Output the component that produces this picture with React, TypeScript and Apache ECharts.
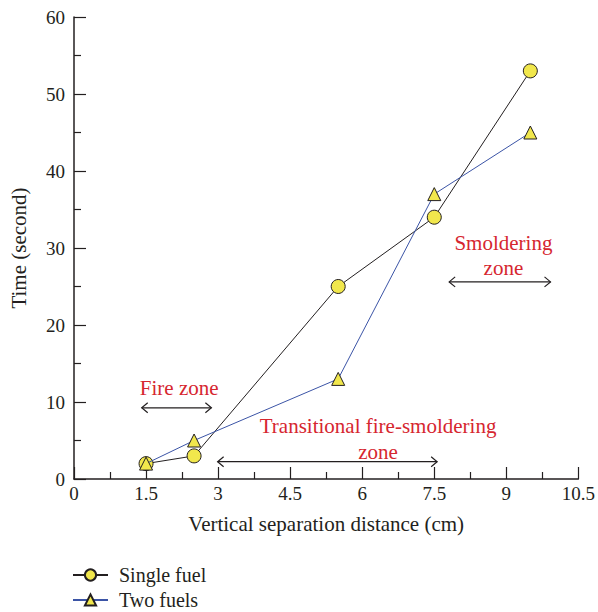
import React, { useEffect, useRef } from "react";
import * as echarts from "echarts";

const distances = [1.5, 2.5, 5.5, 7.5, 9.5];
const singleFuel = [2, 3, 25, 34, 53];
const twoFuels = [2, 5, 13, 37, 45];

// zone arrows: [xStart, xEnd, y]
const zoneArrows: number[][] = [
  [1.41, 2.86, 9.25],
  [2.99, 7.56, 2.25],
  [7.81, 9.92, 25.6],
];
// zone labels: [x, y, text]
const zoneLabels: [number, number, string][] = [
  [2.19, 11.8, "Fire zone"],
  [6.33, 6.9, "Transitional fire-smoldering"],
  [6.33, 3.5, "zone"],
  [8.94, 30.6, "Smoldering"],
  [8.94, 27.4, "zone"],
];

const FONT = "'Liberation Serif', 'DejaVu Serif', serif";
const INK = "#231f20";
const RED = "#d6262f";
const YELLOW = "#f1e74c";
const BLUE = "#3b54a6";

export default function App() {
  const ref = useRef<HTMLDivElement>(null);
  useEffect(() => {
    if (!ref.current) return;
    const chart = echarts.init(ref.current, null, { renderer: "svg" });
    chart.setOption({
      animation: false,
      backgroundColor: "#ffffff",
      textStyle: { fontFamily: FONT, color: INK },
      grid: { left: 72, right: 19, top: 17, bottom: 133, containLabel: false },
      legend: {
        orient: "vertical",
        left: 72,
        top: 565,
        padding: 0,
        itemWidth: 35,
        itemHeight: 14,
        itemGap: 5,
        align: "left",
        data: ["Single fuel", "Two fuels"],
        textStyle: { fontFamily: FONT, fontSize: 20, color: INK, padding: [0, 0, 0, 6] },
      },
      xAxis: {
        type: "value",
        min: 0,
        max: 10.5,
        interval: 1.5,
        name: "Vertical separation distance (cm)",
        nameLocation: "middle",
        nameGap: 34,
        nameTextStyle: { fontFamily: FONT, fontSize: 21, color: INK },
        axisLine: { show: true, onZero: false, lineStyle: { color: INK, width: 1.5 } },
        axisTick: { show: true, inside: true, length: 12, lineStyle: { color: INK, width: 1.2 } },
        minorTick: { show: true, splitNumber: 2, length: 7, lineStyle: { color: INK, width: 1.2 } },
        axisLabel: { fontFamily: FONT, fontSize: 19, color: INK, margin: 5 },
        splitLine: { show: false },
      },
      yAxis: {
        type: "value",
        min: 0,
        max: 60,
        interval: 10,
        name: "Time (second)",
        nameLocation: "middle",
        nameGap: 45,
        nameTextStyle: { fontFamily: FONT, fontSize: 21, color: INK },
        axisLine: { show: true, onZero: false, lineStyle: { color: INK, width: 1.5 } },
        axisTick: { show: true, inside: true, length: 12, lineStyle: { color: INK, width: 1.2 } },
        minorTick: { show: true, splitNumber: 2, length: 7, lineStyle: { color: INK, width: 1.2 } },
        axisLabel: { fontFamily: FONT, fontSize: 19, color: INK, margin: 9 },
        splitLine: { show: false },
      },
      series: [
        {
          name: "Single fuel",
          type: "line",
          data: distances.map((d, i) => [d, singleFuel[i]]),
          symbol: "circle",
          symbolSize: 14,
          lineStyle: { color: INK, width: 1 },
          itemStyle: { color: YELLOW, borderColor: INK, borderWidth: 1 },
          z: 3,
        },
        {
          name: "Two fuels",
          type: "line",
          data: distances.map((d, i) => [d, twoFuels[i]]),
          symbol: "triangle",
          symbolSize: 13,
          lineStyle: { color: BLUE, width: 1 },
          itemStyle: { color: YELLOW, borderColor: INK, borderWidth: 1 },
          z: 4,
        },
        {
          type: "custom",
          silent: true,
          data: zoneArrows,
          renderItem: (params: any, api: any) => {
            const a = api.coord([api.value(0), api.value(2)]);
            const b = api.coord([api.value(1), api.value(2)]);
            const s = { stroke: INK, lineWidth: 1.2, fill: "none" };
            return {
              type: "group",
              children: [
                { type: "line", shape: { x1: a[0], y1: a[1], x2: b[0], y2: b[1] }, style: s },
                {
                  type: "polyline",
                  shape: { points: [[a[0] + 6, a[1] - 5], [a[0], a[1]], [a[0] + 6, a[1] + 5]] },
                  style: s,
                },
                {
                  type: "polyline",
                  shape: { points: [[b[0] - 6, b[1] - 5], [b[0], b[1]], [b[0] - 6, b[1] + 5]] },
                  style: s,
                },
              ],
            };
          },
        },
        {
          type: "custom",
          silent: true,
          data: zoneLabels,
          renderItem: (params: any, api: any) => {
            const p = api.coord([api.value(0), api.value(1)]);
            return {
              type: "text",
              x: p[0],
              y: p[1],
              style: {
                text: zoneLabels[params.dataIndex][2],
                fill: RED,
                font: `21px ${FONT}`,
                align: "center",
                verticalAlign: "middle",
              },
            };
          },
        },
      ],
    });
    return () => chart.dispose();
  }, []);
  return (
    <div
      ref={ref}
      style={{ position: "fixed", left: 0, top: 0, width: 598, height: 612, background: "#fff" }}
    />
  );
}
